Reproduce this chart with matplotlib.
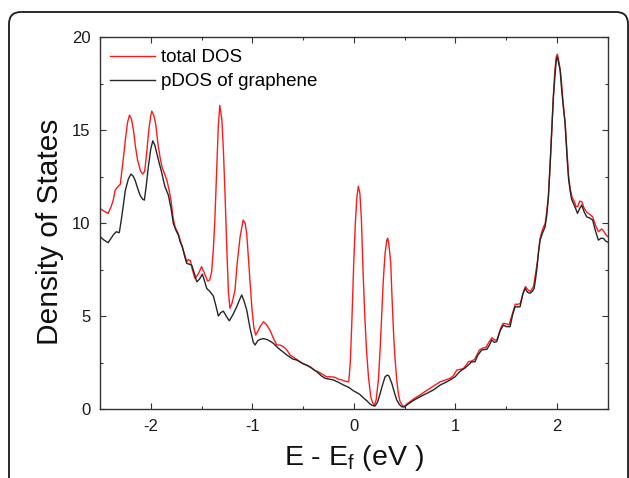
import matplotlib
matplotlib.use("Agg")
import matplotlib.pyplot as plt
import matplotlib.ticker as ticker
from matplotlib.patches import FancyBboxPatch
from matplotlib.transforms import IdentityTransform

#
# Data
#

# total DOS (red)
e_total = [
    -2.50, -2.45, -2.42, -2.39, -2.37, -2.35, -2.32, -2.30, -2.27, -2.25,
    -2.23, -2.21, -2.19, -2.17, -2.15, -2.13, -2.10, -2.08, -2.06, -2.04,
    -2.02, -2.00, -1.99, -1.97, -1.95, -1.93, -1.91, -1.89, -1.86, -1.84,
    -1.82, -1.80, -1.78, -1.76, -1.73, -1.71, -1.69, -1.66, -1.645, -1.63,
    -1.61, -1.59, -1.565, -1.53, -1.50, -1.47, -1.44, -1.42, -1.40, -1.385,
    -1.37, -1.35, -1.335, -1.32, -1.30, -1.285, -1.27, -1.25, -1.235, -1.22,
    -1.20, -1.17, -1.15, -1.12, -1.09, -1.07, -1.055, -1.03, -1.005, -0.985,
    -0.966, -0.945, -0.924, -0.89, -0.86, -0.826, -0.79, -0.76, -0.727, -0.694,
    -0.66, -0.628, -0.58, -0.53, -0.48, -0.431, -0.39, -0.35, -0.30, -0.267,
    -0.225, -0.185, -0.15, -0.119, -0.08, -0.05, -0.035, -0.02, 0.0, 0.015,
    0.03, 0.045, 0.06, 0.075, 0.094, 0.11, 0.127, 0.145, 0.167, 0.185,
    0.202, 0.22, 0.242, 0.26, 0.275, 0.29, 0.308, 0.325, 0.334, 0.345,
    0.364, 0.375, 0.39, 0.405, 0.423, 0.44, 0.456, 0.48, 0.495, 0.52,
    0.554, 0.60, 0.653, 0.70, 0.751, 0.80, 0.85, 0.90, 0.948, 0.98,
    1.014, 1.05, 1.08, 1.11, 1.128, 1.16, 1.19, 1.237, 1.27, 1.30,
    1.33, 1.36, 1.39, 1.41, 1.45, 1.47, 1.50, 1.53, 1.56, 1.59,
    1.62, 1.64, 1.67, 1.69, 1.72, 1.74, 1.77, 1.79, 1.81, 1.835,
    1.86, 1.885, 1.90, 1.917, 1.935, 1.95, 1.965, 1.98, 1.995, 2.005,
    2.02, 2.035, 2.05, 2.065, 2.08, 2.10, 2.115, 2.13, 2.15, 2.17,
    2.19, 2.205, 2.225, 2.245, 2.27, 2.294, 2.32, 2.353, 2.38, 2.41,
    2.44, 2.46, 2.48, 2.50,
]
dos_total = [
    10.80, 10.62, 10.54, 10.90, 11.25, 11.80, 12.00, 12.10, 13.50, 14.50,
    15.40, 15.82, 15.60, 15.00, 14.10, 13.40, 12.80, 12.65, 12.80, 13.80,
    15.00, 15.80, 16.04, 15.80, 15.30, 14.30, 13.60, 13.04, 12.60, 12.30,
    11.80, 11.20, 10.30, 9.80, 9.46, 9.10, 8.74, 8.20, 7.94, 8.05,
    8.00, 7.50, 7.04, 7.30, 7.67, 7.30, 6.90, 6.95, 7.40, 8.50,
    10.00, 13.00, 15.20, 16.35, 15.60, 14.00, 11.80, 8.50, 6.30, 5.43,
    5.70, 6.41, 7.80, 9.28, 10.18, 10.00, 9.46, 7.50, 5.52, 4.40,
    3.99, 4.20, 4.44, 4.71, 4.55, 4.26, 3.80, 3.46, 3.46, 3.37,
    3.20, 2.92, 2.75, 2.56, 2.40, 2.29, 2.10, 2.02, 1.85, 1.75,
    1.75, 1.72, 1.62, 1.58, 1.50, 1.48, 2.50, 4.60, 8.00, 10.00,
    11.40, 12.00, 11.60, 10.20, 6.95, 4.80, 3.01, 1.70, 0.68, 0.35,
    0.23, 0.50, 1.58, 3.30, 5.16, 6.90, 8.39, 9.10, 9.20, 8.90,
    7.85, 6.20, 4.26, 2.80, 1.58, 0.80, 0.41, 0.20, 0.14, 0.28,
    0.41, 0.60, 0.77, 0.95, 1.13, 1.30, 1.48, 1.57, 1.67, 1.80,
    2.11, 2.15, 2.20, 2.40, 2.56, 2.60, 2.68, 3.19, 3.30, 3.32,
    3.60, 3.85, 3.72, 3.75, 4.40, 4.62, 4.60, 4.55, 5.10, 5.65,
    5.65, 5.70, 6.30, 6.60, 6.40, 6.35, 6.60, 7.30, 8.00, 9.20,
    9.70, 10.00, 10.60, 11.50, 13.30, 15.10, 16.80, 18.20, 19.00, 19.10,
    18.70, 18.20, 17.30, 16.30, 15.50, 13.80, 12.60, 11.90, 11.40, 11.20,
    10.90, 10.90, 11.20, 11.16, 10.80, 10.60, 10.50, 10.35, 9.90, 9.55,
    9.70, 9.60, 9.40, 9.30,
]

# pDOS of graphene (black)
e_pdos = [
    -2.50, -2.46, -2.42, -2.39, -2.37, -2.34, -2.31, -2.29, -2.27, -2.25,
    -2.22, -2.195, -2.175, -2.155, -2.13, -2.106, -2.08, -2.063, -2.045, -2.024,
    -2.00, -1.98, -1.96, -1.94, -1.915, -1.89, -1.875, -1.86, -1.84, -1.827,
    -1.80, -1.778, -1.75, -1.728, -1.71, -1.689, -1.665, -1.646, -1.62, -1.597,
    -1.57, -1.547, -1.52, -1.492, -1.47, -1.449, -1.42, -1.384, -1.36, -1.334,
    -1.31, -1.285, -1.25, -1.226, -1.19, -1.153, -1.125, -1.104, -1.08, -1.055,
    -1.02, -0.99, -0.973, -0.945, -0.924, -0.891, -0.858, -0.82, -0.793, -0.743,
    -0.70, -0.66, -0.60, -0.562, -0.50, -0.464, -0.41, -0.365, -0.32, -0.283,
    -0.24, -0.202, -0.15, -0.103, -0.05, -0.005, 0.055, 0.094, 0.13, 0.16,
    0.185, 0.21, 0.235, 0.26, 0.285, 0.308, 0.33, 0.345, 0.374, 0.40,
    0.423, 0.45, 0.472, 0.495, 0.522, 0.58, 0.653, 0.72, 0.784, 0.85,
    0.916, 0.96, 0.998, 1.03, 1.063, 1.09, 1.128, 1.16, 1.194, 1.22,
    1.26, 1.29, 1.31, 1.34, 1.359, 1.385, 1.408, 1.44, 1.473, 1.50,
    1.539, 1.565, 1.589, 1.615, 1.638, 1.665, 1.687, 1.71, 1.736, 1.76,
    1.776, 1.79, 1.802, 1.82, 1.835, 1.86, 1.884, 1.90, 1.917, 1.935,
    1.95, 1.965, 1.983, 1.995, 2.005, 2.018, 2.032, 2.05, 2.065, 2.081,
    2.10, 2.115, 2.13, 2.145, 2.163, 2.185, 2.203, 2.225, 2.245, 2.27,
    2.294, 2.32, 2.353, 2.38, 2.409, 2.435, 2.46, 2.48, 2.50,
]
dos_pdos = [
    9.28, 9.10, 8.96, 9.20, 9.37, 9.55, 9.50, 10.20, 11.00, 11.79,
    12.40, 12.65, 12.55, 12.33, 11.90, 11.52, 11.30, 11.25, 12.00, 13.04,
    14.00, 14.44, 14.20, 13.76, 13.20, 12.69, 12.30, 11.97, 11.70, 11.52,
    10.80, 10.00, 9.60, 9.37, 9.00, 8.74, 8.20, 7.85, 7.80, 7.76,
    7.30, 6.86, 7.00, 7.27, 6.90, 6.50, 6.35, 6.10, 5.60, 5.02,
    5.20, 5.28, 4.95, 4.76, 5.10, 5.52, 5.90, 6.15, 5.80, 5.34,
    4.30, 3.60, 3.46, 3.70, 3.76, 3.80, 3.76, 3.65, 3.55, 3.28,
    3.10, 2.92, 2.70, 2.65, 2.45, 2.38, 2.20, 2.02, 1.80, 1.67,
    1.62, 1.58, 1.45, 1.31, 1.18, 1.00, 0.82, 0.62, 0.45, 0.28,
    0.20, 0.18, 0.40, 0.86, 1.35, 1.75, 1.84, 1.80, 1.40, 0.90,
    0.50, 0.25, 0.14, 0.12, 0.23, 0.45, 0.68, 0.86, 1.04, 1.30,
    1.48, 1.62, 1.75, 1.95, 2.11, 2.20, 2.38, 2.55, 2.56, 2.90,
    3.19, 3.22, 3.22, 3.50, 3.73, 3.60, 3.64, 4.20, 4.53, 4.45,
    4.44, 5.10, 5.52, 5.50, 5.52, 6.20, 6.50, 6.30, 6.24, 6.35,
    6.50, 7.00, 7.49, 8.50, 9.10, 9.50, 9.82, 10.40, 11.43, 13.30,
    15.02, 16.70, 18.06, 18.80, 18.96, 18.60, 18.24, 17.00, 16.20, 15.38,
    13.60, 12.40, 11.79, 11.30, 11.08, 10.80, 10.54, 10.80, 10.98, 10.60,
    10.35, 10.30, 10.18, 9.60, 9.10, 9.20, 9.19, 9.05, 9.00,
]

x_ticks = [-2, -1, 0, 1, 2]
y_ticks = [0, 5, 10, 15, 20]

#
# Graph
#

plt.rcParams["font.family"] = ["Liberation Sans", "DejaVu Sans"]
plt.rcParams["mathtext.default"] = "regular"
plt.rcParams["axes.unicode_minus"] = False

fig = plt.figure(figsize=(6.29, 4.78), dpi=100)
axes = fig.add_axes([0.159, 0.1437, 0.807, 0.778])

axes.plot(e_total, dos_total, color="#ff1a1a", lw=1.0, label="total DOS")
axes.plot(e_pdos, dos_pdos, color="#262626", lw=1.0, label="pDOS of graphene")

axes.set_xlim(-2.5, 2.5)
axes.set_ylim(0, 20)
axes.set_xticks(x_ticks)
axes.set_yticks(y_ticks)
axes.xaxis.set_minor_locator(ticker.MultipleLocator(0.5))
axes.yaxis.set_minor_locator(ticker.MultipleLocator(2.5))
axes.tick_params(which="both", direction="in", top=True, right=True,
                 color="#333333", width=0.8)
axes.tick_params(which="major", length=4.5, labelsize=12, pad=7, labelcolor="#1a1a1a")
axes.tick_params(which="minor", length=2.5)
for spine in axes.spines.values():
    spine.set_color("#333333")
    spine.set_linewidth(1.0)

axes.set_xlabel("E - E$_{f}$ (eV )", fontsize=20.5, color="#111111")
axes.set_ylabel("Density of States", fontsize=21.5, color="#111111")
axes.xaxis.set_label_coords(0.5, -0.09)
axes.yaxis.set_label_coords(-0.071, 0.478)

axes.legend(loc="upper left", bbox_to_anchor=(0.0197, 0.968), frameon=False,
            fontsize=13.5, handlelength=2.4, handletextpad=0.3,
            labelspacing=0.35, borderpad=0, borderaxespad=0)

# rounded frame around the figure (bottom runs off the picture)
frame = FancyBboxPatch((9, -40), 619, 506, boxstyle="round,pad=0,rounding_size=12",
                       transform=IdentityTransform(), fill=False,
                       ec="#1a1a1a", lw=1.3, clip_on=False)
fig.add_artist(frame)

fig.savefig("out.png", dpi=100)
